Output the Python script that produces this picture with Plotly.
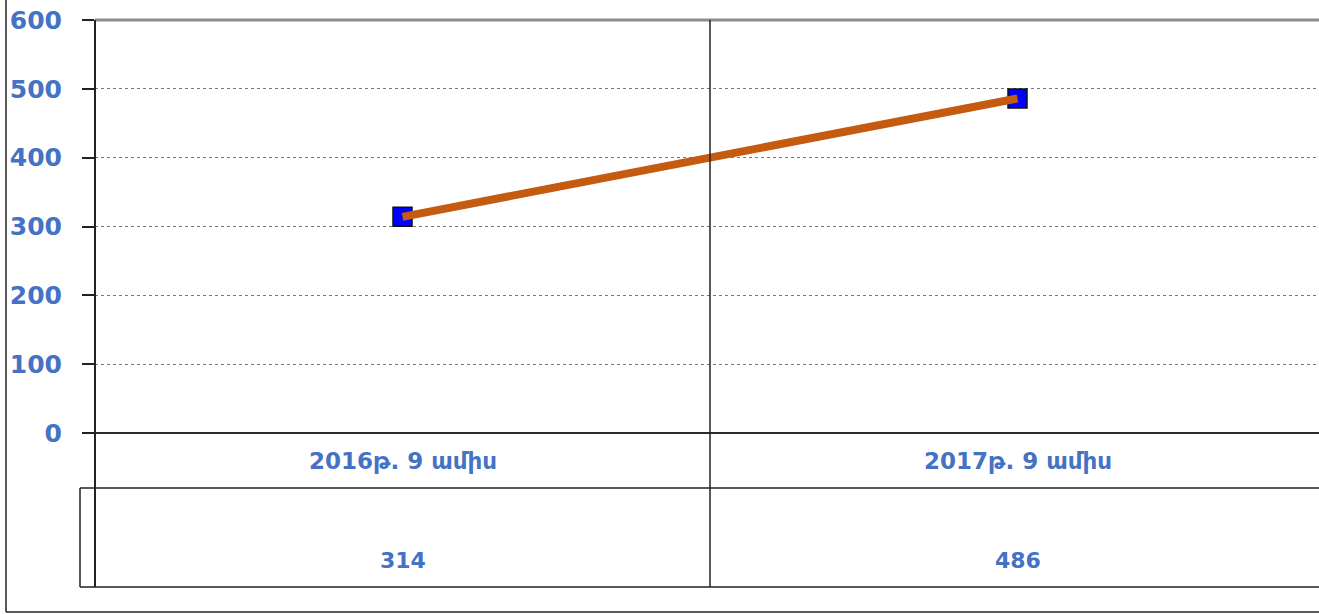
import plotly.graph_objects as go

# Data
categories = ["2016թ. 9 ամիս", "2017թ. 9 ամիս"]
values = [314, 486]
y_ticks = [0, 100, 200, 300, 400, 500, 600]

W, H = 1319, 614
L, R, T, B = 95, 0, 20, 181
PW, PH = W - L - R, H - T - B
CAT_W = 615  # pixel width of one category slot

TEXT_BLUE = "#4472C4"
FONT = "DejaVu Sans"


def px(x):
    """pixel x -> paper x"""
    return (x - L) / PW


def py(y):
    """pixel y -> paper y"""
    return (H - B - y) / PH


xs = list(range(len(categories)))

fig = go.Figure()
# markers underneath, line drawn on top of them
fig.add_trace(go.Scatter(
    x=xs, y=values, mode="markers",
    marker=dict(symbol="square", size=19, color="#0000FF",
                line=dict(color="#111111", width=1.5)),
    hoverinfo="skip", showlegend=False,
))
fig.add_trace(go.Scatter(
    x=xs, y=values, mode="lines",
    line=dict(color="#C55A11", width=8),
    showlegend=False,
))

shapes = []
line_dark = dict(color="#222222", width=1.5)
# outer frame (left + bottom)
shapes.append(dict(type="line", xref="paper", yref="paper",
                   x0=px(6), x1=px(6), y0=py(0), y1=py(612), line=line_dark))
shapes.append(dict(type="line", xref="paper", yref="paper",
                   x0=px(6), x1=1, y0=py(612), y1=py(612), line=line_dark))
# top boundary of plot
shapes.append(dict(type="line", xref="paper", yref="paper",
                   x0=0, x1=1, y0=1, y1=1,
                   line=dict(color="#8c8c8c", width=3)))
# category axis line
shapes.append(dict(type="line", xref="paper", yref="paper",
                   x0=0, x1=1, y0=0, y1=0,
                   line=dict(color="#2b2b2b", width=2)))
# vertical value axis line, extended through data table
shapes.append(dict(type="line", xref="paper", yref="paper",
                   x0=0, x1=0, y0=1, y1=py(587),
                   line=dict(color="#222222", width=2)))
# category divider
shapes.append(dict(type="line", xref="x", yref="paper",
                   x0=0.5, x1=0.5, y0=1, y1=py(587),
                   line=dict(color="#222222", width=1.5)))
# data table rows
for yy in (488, 587):
    shapes.append(dict(type="line", xref="paper", yref="paper",
                       x0=px(80), x1=1, y0=py(yy), y1=py(yy), line=line_dark))
shapes.append(dict(type="line", xref="paper", yref="paper",
                   x0=px(80), x1=px(80), y0=py(488), y1=py(587), line=line_dark))

annotations = []
for i, (c, v) in enumerate(zip(categories, values)):
    annotations.append(dict(x=i, y=py(461), xref="x", yref="paper", text=c,
                            showarrow=False, xanchor="center", yanchor="middle",
                            font=dict(family=FONT, size=23, color=TEXT_BLUE, weight="bold")))
    annotations.append(dict(x=i, y=py(560), xref="x", yref="paper", text=str(v),
                            showarrow=False, xanchor="center", yanchor="middle",
                            font=dict(family=FONT, size=22, color=TEXT_BLUE, weight="bold")))

fig.update_layout(
    width=W, height=H,
    margin=dict(l=L, r=R, t=T, b=B, pad=0),
    paper_bgcolor="white", plot_bgcolor="white",
    shapes=shapes, annotations=annotations,
    xaxis=dict(range=[-0.5, -0.5 + PW / CAT_W], showgrid=False, zeroline=False,
               showline=False, showticklabels=False, ticks=""),
    yaxis=dict(range=[0, 600], tickvals=y_ticks, showgrid=True,
               gridcolor="#777777", gridwidth=1, griddash="dot",
               zeroline=False, showline=False,
               ticks="outside", ticklen=12, tickcolor="#222222", tickwidth=1.5,
               ticklabelstandoff=15,
               tickfont=dict(family=FONT, size=25, color=TEXT_BLUE, weight="bold")),
    showlegend=False,
)

fig.write_html("out.html")
